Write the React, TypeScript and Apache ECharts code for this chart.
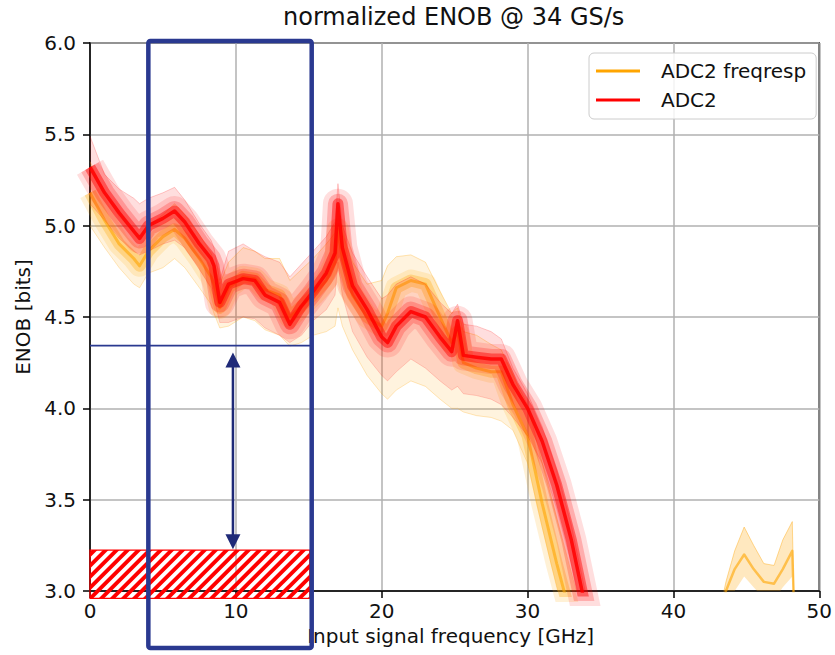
import React, { useEffect, useRef } from "react";
import * as echarts from "echarts";

// ---------- data ----------
const freqMain = [0, 1, 2, 3, 3.4, 4, 5, 5.8, 6.5, 7.5, 8.3, 8.5, 8.9, 9.5, 10.5, 11.3, 12, 13, 13.7, 14.5, 15.3, 16.2, 16.8, 17, 17.3, 18, 19, 20, 20.4, 21, 22, 23, 24, 24.8, 25.2, 25.6, 26.5, 27.5, 28.2, 29, 30, 31, 32, 33, 34];

const adcMid = [5.32, 5.18, 5.07, 4.97, 4.93, 5.0, 5.04, 5.08, 5.02, 4.9, 4.82, 4.78, 4.58, 4.68, 4.71, 4.7, 4.62, 4.58, 4.46, 4.56, 4.64, 4.74, 4.85, 5.12, 4.88, 4.67, 4.54, 4.39, 4.36, 4.45, 4.53, 4.5, 4.39, 4.31, 4.48, 4.29, 4.28, 4.27, 4.27, 4.13, 4.0, 3.82, 3.58, 3.28, 2.9];
const adcHi = [5.49, 5.28, 5.2, 5.15, 5.12, 5.15, 5.18, 5.21, 5.14, 5.01, 4.92, 4.88, 4.7, 4.86, 4.9, 4.86, 4.83, 4.8, 4.72, 4.79, 4.86, 4.94, 5.02, 5.23, 5.0, 4.85, 4.72, 4.6, 4.62, 4.68, 4.72, 4.68, 4.58, 4.52, 4.57, 4.46, 4.45, 4.42, 4.38, 4.22, 4.08, 3.9, 3.66, 3.36, 2.98];
const adcLo = [5.12, 5.03, 4.93, 4.86, 4.84, 4.86, 4.9, 4.92, 4.88, 4.76, 4.66, 4.6, 4.47, 4.47, 4.5, 4.49, 4.44, 4.4, 4.36, 4.4, 4.48, 4.54, 4.62, 4.8, 4.62, 4.42, 4.28, 4.18, 4.15, 4.2, 4.27, 4.22, 4.15, 4.1, 4.12, 4.08, 4.07, 4.05, 4.02, 3.95, 3.85, 3.7, 3.45, 3.15, 2.8];

const frMid = [5.18, 5.03, 4.9, 4.82, 4.78, 4.86, 4.94, 4.98, 4.93, 4.82, 4.72, 4.68, 4.55, 4.66, 4.72, 4.71, 4.65, 4.62, 4.5, 4.56, 4.62, 4.7, 4.8, 4.98, 4.82, 4.62, 4.5, 4.45, 4.52, 4.66, 4.7, 4.68, 4.5, 4.36, 4.42, 4.25, 4.22, 4.2, 4.2, 4.02, 3.85, 3.48, 3.15, 2.85, 2.55];
const frHi = [5.35, 5.18, 5.05, 4.97, 4.95, 5.0, 5.06, 5.12, 5.06, 4.95, 4.85, 4.8, 4.68, 4.8, 4.88, 4.86, 4.82, 4.82, 4.7, 4.76, 4.82, 4.9, 4.96, 5.1, 4.96, 4.8, 4.68, 4.7, 4.78, 4.83, 4.84, 4.8, 4.64, 4.52, 4.55, 4.42, 4.4, 4.35, 4.32, 4.18, 4.02, 3.7, 3.4, 3.1, 2.8];
const frLo = [5.0, 4.88, 4.77, 4.68, 4.66, 4.74, 4.77, 4.82, 4.77, 4.66, 4.57, 4.52, 4.44, 4.45, 4.5, 4.48, 4.43, 4.4, 4.34, 4.36, 4.4, 4.42, 4.45, 4.55, 4.45, 4.32, 4.18, 4.08, 4.05, 4.1, 4.15, 4.12, 4.05, 4.0, 4.0, 3.98, 3.96, 3.95, 3.93, 3.88, 3.7, 3.35, 3.02, 2.75, 2.45];

// small orange bump near 44-48 GHz
const freqTail = [43.2, 43.6, 44.2, 44.85, 45.5, 46.2, 46.9, 47.5, 48.15, 48.25];
const frTailMid = [2.85, 3.0, 3.12, 3.2, 3.12, 3.05, 3.04, 3.12, 3.22, 2.95];
const frTailHi = [2.9, 3.05, 3.22, 3.35, 3.25, 3.15, 3.14, 3.28, 3.38, 3.0];
const frTailLo = [2.8, 2.92, 3.0, 3.08, 3.02, 2.96, 2.95, 3.02, 3.08, 2.9];

const xTicks = { min: 0, max: 50, interval: 10 };
const yTicks = { min: 3, max: 6, interval: 0.5 };

// annotation values (data units)
const boxX = [4.0, 15.2];
const refLevel = 4.343;
const refLineX = [0, 15.2];
const arrowX = 9.8;
const arrowY = [4.305, 3.228];
const hatchX = [0, 15.07];
const hatchY = [2.96, 3.224];

const ORANGE = "#ffa500";
const RED = "#ff0000";
const NAVY = "#2a3990";
const FONT = "DejaVu Sans";

const pairs = (xs: number[], ys: number[]) => xs.map((x, i) => [x, ys[i]]);

function band(name: string, xs: number[], hi: number[], lo: number[], color: string, opacity: number, z: number) {
  return {
    type: "custom",
    name,
    clip: true,
    silent: true,
    z,
    data: [[xs[0], hi[0]]],
    renderItem: (_p: any, api: any) => {
      const pts: number[][] = [];
      xs.forEach((x, i) => pts.push(api.coord([x, hi[i]])));
      for (let i = xs.length - 1; i >= 0; i--) pts.push(api.coord([xs[i], lo[i]]));
      return { type: "polygon", shape: { points: pts }, style: { fill: color, opacity } };
    },
  };
}

function line(name: string, xs: number[], ys: number[], color: string, width: number, opacity: number, z: number) {
  return {
    type: "line",
    name,
    data: pairs(xs, ys),
    symbol: "none",
    silent: true,
    z,
    color,
    itemStyle: { color },
    lineStyle: { color, width, opacity, join: "round" },
  };
}

function clipHalf(poly: number[][], inside: (p: number[]) => boolean, inter: (a: number[], b: number[]) => number[]) {
  const out: number[][] = [];
  for (let i = 0; i < poly.length; i++) {
    const cur = poly[i];
    const prev = poly[(i + poly.length - 1) % poly.length];
    const ci = inside(cur);
    const pi = inside(prev);
    if (ci) {
      if (!pi) out.push(inter(prev, cur));
      out.push(cur);
    } else if (pi) out.push(inter(prev, cur));
  }
  return out;
}
const ix = (x: number) => (a: number[], b: number[]) => {
  const t = (x - a[0]) / (b[0] - a[0]);
  return [x, a[1] + t * (b[1] - a[1])];
};
const iy = (y: number) => (a: number[], b: number[]) => {
  const t = (y - a[1]) / (b[1] - a[1]);
  return [a[0] + t * (b[0] - a[0]), y];
};
function clipRect(poly: number[][], x0: number, x1: number, y0: number, y1: number) {
  let p = clipHalf(poly, (q) => q[0] >= x0, ix(x0));
  if (p.length) p = clipHalf(p, (q) => q[0] <= x1, ix(x1));
  if (p.length) p = clipHalf(p, (q) => q[1] >= y0, iy(y0));
  if (p.length) p = clipHalf(p, (q) => q[1] <= y1, iy(y1));
  return p;
}

export default function App() {
  const ref = useRef<HTMLDivElement>(null);
  useEffect(() => {
    const chart = echarts.init(ref.current!, null, { renderer: "svg" });
    const legendIcon = "path://M0 0H44V3H0ZM60 0L60 3Z";
    chart.setOption({
      animation: false,
      backgroundColor: "#fff",
      title: {
        text: "normalized ENOB @ 34 GS/s",
        left: 283,
        top: 5,
        padding: 0,
        textStyle: { fontFamily: FONT, fontSize: 24, fontWeight: "normal", color: "#111" },
      },
      legend: {
        left: 589,
        top: 53,
        orient: "vertical",
        padding: [8, 10, 9, 7],
        itemGap: 9,
        itemWidth: 60,
        itemHeight: 3,
        backgroundColor: "rgba(255,255,255,0.85)",
        borderColor: "#cccccc",
        borderWidth: 1,
        borderRadius: 5,
        selectedMode: false,
        textStyle: { fontFamily: FONT, fontSize: 20, color: "#111" },
        data: [
          { name: "ADC2 freqresp", icon: legendIcon, itemStyle: { color: ORANGE } },
          { name: "ADC2", icon: legendIcon, itemStyle: { color: RED } },
        ],
      },
      grid: {
        left: 90,
        top: 43,
        width: 732,
        height: 548,
        show: true,
        borderColor: "#000",
        borderWidth: 1.5,
        backgroundColor: "transparent",
      },
      xAxis: {
        type: "value",
        ...xTicks,
        name: "Input signal frequency [GHz]",
        nameLocation: "middle",
        nameGap: 31,
        nameTextStyle: { fontFamily: FONT, fontSize: 20, color: "#111", padding: [0, 8, 0, 0] },
        axisLine: { show: true, onZero: false, lineStyle: { color: "#000", width: 1.5 } },
        axisTick: { show: true, length: 7, lineStyle: { color: "#000", width: 1.5 } },
        axisLabel: { margin: 10, fontFamily: FONT, fontSize: 20, color: "#111" },
        splitLine: { show: true, lineStyle: { color: "#b0b0b0", width: 1.5 } },
      },
      yAxis: {
        type: "value",
        ...yTicks,
        name: "ENOB [bits]",
        nameLocation: "middle",
        nameGap: 54,
        nameTextStyle: { fontFamily: FONT, fontSize: 20, color: "#111" },
        axisLine: { show: true, onZero: false, lineStyle: { color: "#000", width: 1.5 } },
        axisTick: { show: true, length: 7, lineStyle: { color: "#000", width: 1.5 } },
        axisLabel: {
          margin: 14,
          fontFamily: FONT,
          fontSize: 20,
          color: "#111",
          formatter: (v: number) => v.toFixed(1),
        },
        splitLine: { show: true, lineStyle: { color: "#b0b0b0", width: 1.5 } },
      },
      series: [
        band("fr band", freqMain, frHi, frLo, ORANGE, 0.13, 2),
        line("fr hi", freqMain, frHi, ORANGE, 1, 0.3, 3),
        line("fr lo", freqMain, frLo, ORANGE, 1, 0.25, 3),
        line("fr halo", freqMain, frMid, ORANGE, 22, 0.16, 4),
        line("fr core", freqMain, frMid, ORANGE, 12, 0.3, 4),
        line("ADC2 freqresp", freqMain, frMid, ORANGE, 3, 0.6, 5),
        band("fr tail band", freqTail, frTailHi, frTailLo, ORANGE, 0.25, 2),
        line("fr tail hi", freqTail, frTailHi, ORANGE, 1, 0.4, 3),
        line("fr tail", freqTail, frTailMid, ORANGE, 2.5, 0.6, 5),
        band("adc band", freqMain, adcHi, adcLo, RED, 0.13, 6),
        line("adc hi", freqMain, adcHi, RED, 1, 0.2, 7),
        line("adc lo", freqMain, adcLo, RED, 1, 0.16, 7),
        line("adc halo", freqMain, adcMid, RED, 30, 0.13, 8),
        line("adc halo2", freqMain, adcMid, RED, 20, 0.22, 8),
        line("adc core", freqMain, adcMid, RED, 11, 0.45, 8),
        line("ADC2", freqMain, adcMid, RED, 3.5, 0.85, 9),
      ],
    });

    const P = (x: number, y: number) => chart.convertToPixel({ gridIndex: 0 }, [x, y]) as number[];

    // blue box
    const bTL = P(boxX[0], 0);
    const bBR = P(boxX[1], 0);
    const boxTop = 41;
    const boxBottom = 648;
    // reference line
    const l0 = P(refLineX[0], refLevel);
    const l1 = P(refLineX[1], refLevel);
    // arrow
    const aT = P(arrowX, arrowY[0]);
    const aB = P(arrowX, arrowY[1]);
    // hatch
    const h0 = P(hatchX[0], hatchY[1]);
    const h1 = P(hatchX[1], hatchY[0]);
    const hx0 = h0[0], hy0 = h0[1], hx1 = h1[0], hy1 = h1[1];
    const stripes: any[] = [];
    const period = 11;
    const sw = 5.5;
    for (let c = hx0 + hy0 - 20; c < hx1 + hy1 + 20; c += period) {
      const ya = hy0 - 30;
      const yb = hy1 + 30;
      const poly = [
        [c - ya, ya],
        [c + sw - ya, ya],
        [c + sw - yb, yb],
        [c - yb, yb],
      ];
      const cp = clipRect(poly, hx0, hx1, hy0, hy1);
      if (cp.length >= 3) {
        stripes.push({ type: "polygon", z: 101, silent: true, shape: { points: cp }, style: { fill: RED } });
      }
    }

    const ah = 15; // arrowhead length
    const aw = 7.5; // half width
    chart.setOption({
      graphic: [
        ...stripes,
        {
          type: "rect",
          z: 102,
          silent: true,
          shape: { x: hx0, y: hy0, width: hx1 - hx0, height: hy1 - hy0 },
          style: { fill: "none", stroke: RED, lineWidth: 1.2 },
        },
        {
          type: "line",
          z: 103,
          silent: true,
          shape: { x1: l0[0], y1: l0[1], x2: l1[0], y2: l1[1] },
          style: { stroke: NAVY, lineWidth: 1.8 },
        },
        {
          type: "line",
          z: 103,
          silent: true,
          shape: { x1: aT[0], y1: aT[1] + ah - 2, x2: aB[0], y2: aB[1] - ah + 2 },
          style: { stroke: "#1f2a78", lineWidth: 2.5 },
        },
        {
          type: "polygon",
          z: 103,
          silent: true,
          shape: { points: [[aT[0], aT[1]], [aT[0] - aw, aT[1] + ah], [aT[0] + aw, aT[1] + ah]] },
          style: { fill: "#1f2a78" },
        },
        {
          type: "polygon",
          z: 103,
          silent: true,
          shape: { points: [[aB[0], aB[1]], [aB[0] - aw, aB[1] - ah], [aB[0] + aw, aB[1] - ah]] },
          style: { fill: "#1f2a78" },
        },
        {
          type: "rect",
          z: 104,
          silent: true,
          shape: { x: bTL[0], y: boxTop, width: bBR[0] - bTL[0], height: boxBottom - boxTop, r: 2 },
          style: { fill: "none", stroke: NAVY, lineWidth: 4.5 },
        },
      ],
    });
    return () => chart.dispose();
  }, []);
  return <div ref={ref} style={{ position: "fixed", left: 0, top: 0, width: 835, height: 655 }} />;
}
